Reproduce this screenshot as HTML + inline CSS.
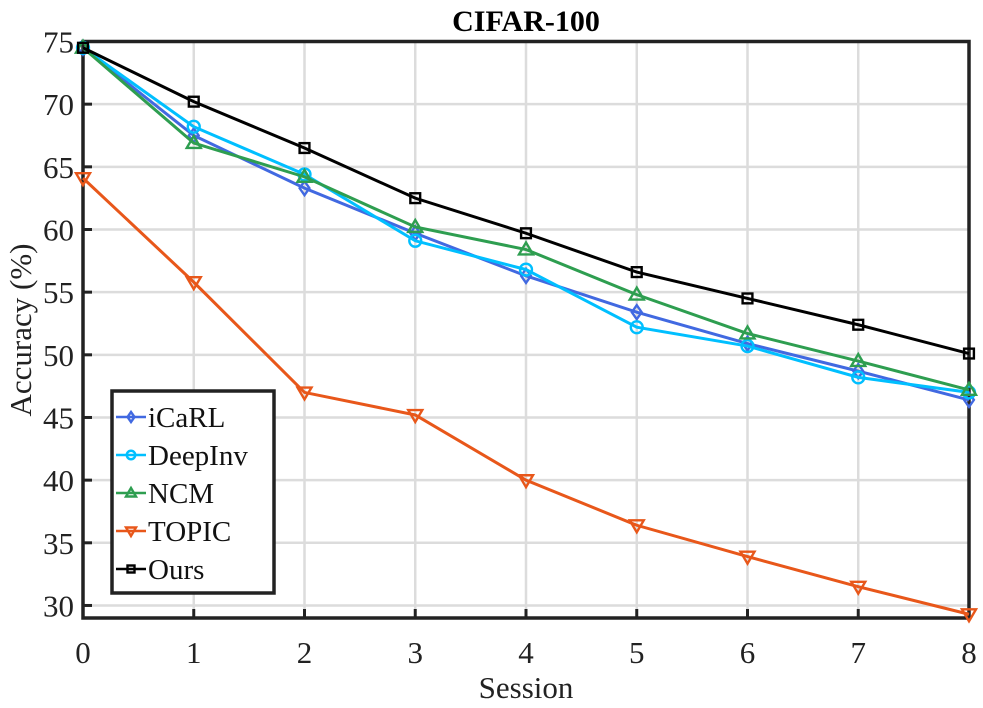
<!DOCTYPE html>
<html><head><meta charset="utf-8"><style>
html,body{margin:0;padding:0;background:#fff;}
svg{display:block;font-family:"Liberation Serif",serif;}
</style></head><body>
<svg id="chart" width="983" height="708">
<text x="526" y="31" text-anchor="middle" font-size="30" font-weight="bold">CIFAR-100</text>
<g id="grid"></g>
<g id="axes"></g>
<g id="series"></g>
<text x="526" y="698" text-anchor="middle" font-size="31" fill="#222">Session</text>
<text transform="translate(31,330) rotate(-90)" text-anchor="middle" font-size="31" fill="#222">Accuracy (%)</text>
<g id="legend"></g>
</svg>
<script>
const sessions=[0,1,2,3,4,5,6,7,8];
const yTicks=[30,35,40,45,50,55,60,65,70,75];
const seriesNames=["iCaRL","DeepInv","NCM","TOPIC","Ours"];
const icarl=[74.5,67.5,63.3,59.7,56.3,53.4,50.9,48.7,46.4];
const deepinv=[74.5,68.2,64.4,59.1,56.8,52.2,50.7,48.2,47.0];
const ncm=[74.5,66.9,64.2,60.2,58.4,54.8,51.7,49.5,47.2];
const topic=[64.1,55.8,47.0,45.2,40.0,36.4,33.9,31.5,29.3];
const ours=[74.5,70.2,66.5,62.5,59.7,56.6,54.5,52.4,50.1];

const L=83,R=969,T=41.5,B=618,ymin=29,ymax=75,xmax=8;
const X=v=>L+(R-L)*v/xmax;
const Y=v=>B-(B-T)*(v-ymin)/(ymax-ymin);
const NS="http://www.w3.org/2000/svg";
function mk(tag,attrs,parent){const e=document.createElementNS(NS,tag);for(const k in attrs)e.setAttribute(k,attrs[k]);parent.appendChild(e);return e;}
const grid=document.getElementById('grid'),axes=document.getElementById('axes'),ser=document.getElementById('series'),leg=document.getElementById('legend');
sessions.forEach(s=>{
  const l=mk('line',{x1:X(s),x2:X(s),y1:T,y2:B,stroke:'#dcdcdc','stroke-width':2.5},grid);
  
  
  const tk=mk('line',{x1:X(s),x2:X(s),y1:B,y2:B-9,stroke:'#222','stroke-width':3},axes);
  
  
  const t=mk('text',{x:X(s),y:B+45,'text-anchor':'middle','font-size':31,fill:'#222'},axes);
  t.textContent=s;
  
  
});
yTicks.forEach(v=>{
  const l=mk('line',{x1:L,x2:R,y1:Y(v),y2:Y(v),stroke:'#dcdcdc','stroke-width':2.5},grid);
  
  
  const tk=mk('line',{x1:L,x2:L+9,y1:Y(v),y2:Y(v),stroke:'#222','stroke-width':3},axes);
  
  
  const t=mk('text',{x:L-9,y:Y(v)+11,'text-anchor':'end','font-size':31,fill:'#222'},axes);
  t.textContent=v;
  
  
});
const box=mk('rect',{x:L,y:T,width:R-L,height:B-T,fill:'none',stroke:'#222','stroke-width':3.5},axes);



function marker(type,x,y,color,g,s){
  s=s||7;let e;
  if(type==='diamond')e=mk('polygon',{points:`${x},${y-s} ${x+s*0.7},${y} ${x},${y+s} ${x-s*0.7},${y}`},g);
  else if(type==='circle')e=mk('circle',{cx:x,cy:y,r:s*0.85},g);
  else if(type==='tri')e=mk('polygon',{points:`${x},${y-s} ${x+s},${y+s*0.7} ${x-s},${y+s*0.7}`},g);
  else if(type==='tridown')e=mk('polygon',{points:`${x},${y+s} ${x+s},${y-s*0.7} ${x-s},${y-s*0.7}`},g);
  else e=mk('rect',{x:x-s*0.7,y:y-s*0.7,width:s*1.4,height:s*1.4},g);
  e.setAttribute('fill','none');e.setAttribute('stroke',color);e.setAttribute('stroke-width',2.4);
  
  
}
const defs=[[icarl,'#4169e1','diamond'],[deepinv,'#00bfff','circle'],[ncm,'#2e9e50','tri'],[topic,'#e8571a','tridown'],[ours,'#000','square']];
defs.forEach((d,i)=>{
  const g=mk('g',{},ser);
  
  
  const pts=d[0].map((v,j)=>X(sessions[j])+','+Y(v)).join(' ');
  const pl=mk('polyline',{points:pts,fill:'none',stroke:d[1],'stroke-width':3},g);
  
  
  d[0].forEach((v,j)=>marker(d[2],X(sessions[j]),Y(v),d[1],g));
});
const lb=mk('rect',{x:112,y:391,width:162,height:202,fill:'#fff',stroke:'#222','stroke-width':3.5},leg);


defs.forEach((d,i)=>{
  const y=417+i*38;
  const g=mk('g',{},leg);
  
  
  mk('line',{x1:116,x2:146,y1:y,y2:y,stroke:d[1],'stroke-width':2.6},g);
  marker(d[2],131,y,d[1],g,5);
  const t=mk('text',{x:148,y:y+10,'font-size':29,fill:'#111'},g);
  t.textContent=seriesNames[i];
  
  
});
</script>
</body></html>
